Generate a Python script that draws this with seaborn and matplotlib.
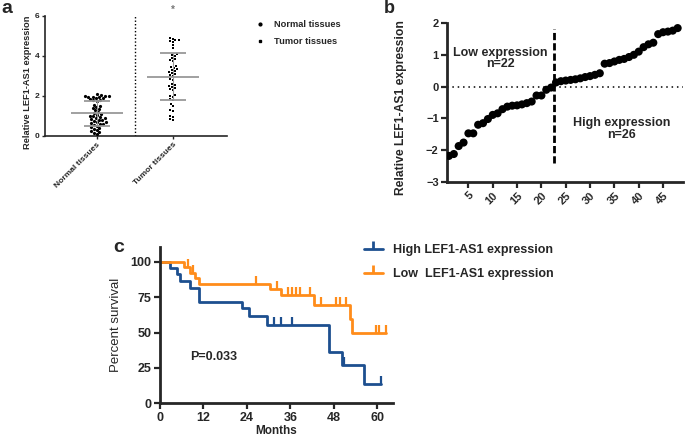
import matplotlib
matplotlib.use('Agg')
import matplotlib.pyplot as plt
import seaborn as sns
import numpy as np
import pandas as pd
from matplotlib.lines import Line2D

sns.set_theme(style='ticks')
plt.rcParams['font.family'] = ['Liberation Sans', 'DejaVu Sans']
plt.rcParams['font.weight'] = 'bold'

# ---------------- Panel a data ----------------
categories_a = ['Normal tissues', 'Tumor tissues']
normal_vals = [2.05, 2.02, 2.0, 1.98, 1.97, 1.95, 1.93, 1.9, 1.88, 2.08, 1.85, 1.8, 1.78, 1.75,
               1.55, 1.5, 1.45, 1.4, 1.35, 1.3,
               1.2, 1.15, 1.1, 1.05, 1.0, 0.98, 0.95, 0.9, 0.88, 0.85, 0.82, 0.8,
               0.75, 0.7, 0.68, 0.65, 0.6, 0.58, 0.55, 0.5, 0.45,
               0.4, 0.35, 0.3, 0.25, 0.2, 0.15, 0.1]
tumor_vals = [4.9, 4.85, 4.8, 4.78, 4.75, 4.7, 4.55, 4.4,
              4.1, 4.05, 4.0, 3.9, 3.85, 3.8, 3.75,
              3.5, 3.45, 3.4, 3.35, 3.3, 3.25, 3.2, 3.15, 3.1, 3.05, 3.0,
              2.85, 2.8, 2.6, 2.55, 2.5, 2.45, 2.4, 2.35, 2.3,
              2.05, 2.0, 1.95, 1.85, 1.8,
              1.6, 1.5, 1.3, 1.25, 1.0, 0.95, 0.85, 0.8]

# ---------------- Panel b data ----------------
sample_rank = list(range(1, 49))
rel_expr = [-2.18, -2.12, -1.87, -1.76, -1.47, -1.47, -1.2, -1.15, -1.02, -0.89,
            -0.84, -0.71, -0.63, -0.6, -0.59, -0.56, -0.52, -0.47, -0.28, -0.28,
            -0.1, -0.03,
            0.13, 0.17, 0.19, 0.21, 0.23, 0.26, 0.3, 0.33, 0.37, 0.42,
            0.72, 0.74, 0.79, 0.84, 0.87, 0.93, 1.0, 1.1, 1.24, 1.33, 1.38,
            1.65, 1.71, 1.73, 1.76, 1.84]
b_ticks = [5, 10, 15, 20, 25, 30, 35, 40, 45]
cutoff_rank = 22.5

# ---------------- Panel c data ----------------
high_t = [0, 2.75, 4.6, 5.5, 8.3, 10.8, 22.5, 24.6, 29.4, 46.6, 50.3, 56.3, 61.1]
high_s = [100, 95.5, 91.0, 86.3, 81.1, 71.6, 67.0, 61.8, 55.0, 36.5, 27.0, 13.6, 13.6]
high_cens_t = [31.5, 33.5, 36.5, 50.8, 61.1]
high_cens_s = [55.0, 55.0, 55.0, 27.0, 13.6]
low_t = [0, 6.7, 8.3, 9.6, 10.8, 30.3, 33.5, 42.6, 52.3, 53.1, 62.4]
low_s = [100, 96.2, 92.2, 88.2, 84.6, 80.4, 76.3, 69.4, 59.5, 49.8, 49.8]
low_cens_t = [7.6, 9.0, 26.6, 32.4, 35.2, 36.4, 37.5, 38.7, 41.3, 44.5, 48.7, 49.6, 51.4, 59.5, 60.4, 62.4]
low_cens_s = [96.2, 92.2, 84.6, 80.4, 76.3, 76.3, 76.3, 76.3, 76.3, 69.4, 69.4, 69.4, 69.4, 49.8, 49.8, 49.8]
c_xticks = [0, 12, 24, 36, 48, 60]
c_yticks = [0, 25, 50, 75, 100]

BLUE = '#1d4f8f'
ORANGE = '#ff8c1a'

W, H = 685, 441
fig = plt.figure(figsize=(6.85, 4.41), dpi=100)

def ax_px(l, t, r, b):
    return fig.add_axes([l / W, 1 - b / H, (r - l) / W, (b - t) / H])

# ======== Panel a ========
axa = ax_px(45, 16, 227, 136)
df_a = pd.DataFrame({'group': ['Normal tissues'] * len(normal_vals) + ['Tumor tissues'] * len(tumor_vals),
                     'value': normal_vals + tumor_vals})
sns.swarmplot(data=df_a[df_a.group == 'Normal tissues'], x='group', y='value', order=categories_a,
              color='black', size=2.3, marker='o', ax=axa)
sns.swarmplot(data=df_a[df_a.group == 'Tumor tissues'], x='group', y='value', order=categories_a,
              color='black', size=2.1, marker='s', ax=axa)
for i, vals in enumerate([normal_vals, tumor_vals]):
    m, sd = np.mean(vals), np.std(vals, ddof=1)
    axa.hlines(m, i - 0.34, i + 0.34, color='#999999', lw=1.3, zorder=5)
    axa.hlines([m - sd, m + sd], i - 0.17, i + 0.17, color='#999999', lw=1.3, zorder=5)
    axa.vlines(i, m - sd, m + sd, color='#999999', lw=0.8, zorder=5)
axa.axvline(0.5, color='black', lw=1.0, linestyle=(0, (1, 1.5)))
axa.text(1, 6.05, '*', ha='center', va='bottom', fontsize=7, color='#777777')
axa.set_xlim(-0.68, 1.71)
axa.set_ylim(0, 6)
axa.set_yticks([0, 2, 4, 6])
axa.set_xlabel('')
axa.set_ylabel('Relative LEF1-AS1 expression', fontsize=6.7, fontweight='bold')
axa.yaxis.set_label_coords(-0.07, 0.45)
axa.tick_params(axis='y', labelsize=6, length=2.5, width=1, pad=1.5)
axa.tick_params(axis='x', labelsize=6, length=2.5, width=1, pad=1)
plt.setp(axa.get_xticklabels(), rotation=45, ha='right', rotation_mode='anchor', fontweight='bold')
plt.setp(axa.get_yticklabels(), fontweight='bold')
sns.despine(ax=axa)
for s in ['left', 'bottom']:
    axa.spines[s].set_linewidth(1.2)

h_a = [Line2D([], [], marker='o', ms=2.0, color='black', lw=0),
       Line2D([], [], marker='s', ms=2.0, color='black', lw=0)]
fig.legend(h_a, categories_a, loc='upper left', bbox_to_anchor=(255 / W, 1 - 20 / H), frameon=False,
           prop={'size': 6.7, 'weight': 'bold'}, handlelength=1.0, handletextpad=1.0,
           labelspacing=0.9, borderpad=0, borderaxespad=0)
fig.text(1 / W, 1 - 0 / H, 'a', fontsize=14, fontweight='bold', va='top', ha='left')

# ======== Panel b ========
axb = ax_px(447, 23, 683, 182)
sns.scatterplot(x=sample_rank, y=rel_expr, color='black', s=34, edgecolor='none', ax=axb, zorder=4)
axb.axhline(0, color='black', lw=1.1, linestyle=(0, (1, 2.5)), zorder=2)
axb.vlines(cutoff_rank, -2.4, 1.8, color='black', lw=2, linestyle=(0, (2.6, 1.1)), zorder=3)
axb.set_xlim(0.6, 49.1)
axb.set_ylim(-3, 2)
axb.set_xticks(b_ticks)
axb.set_yticks([-3, -2, -1, 0, 1, 2])
axb.set_ylabel('Relative LEF1-AS1 expression', fontsize=8.7, fontweight='bold')
axb.yaxis.set_label_coords(-0.17, 0.47)
axb.tick_params(axis='both', labelsize=8, length=4, width=1.6, pad=2)
plt.setp(axb.get_xticklabels(), rotation=45, ha='right', rotation_mode='anchor', fontweight='bold')
plt.setp(axb.get_yticklabels(), fontweight='bold')
sns.despine(ax=axb)
for s in ['left', 'bottom']:
    axb.spines[s].set_linewidth(2)
axb.text(11.5, 0.89, 'Low expression\nn=22', ha='center', va='center', fontsize=9,
         fontweight='bold', linespacing=0.95)
axb.text(36.5, -1.33, 'High expression\nn=26', ha='center', va='center', fontsize=9,
         fontweight='bold', linespacing=0.95)
fig.text(384 / W, 1 - 0 / H, 'b', fontsize=13, fontweight='bold', va='top', ha='left')

# ======== Panel c ========
axc = ax_px(160, 246.7, 393, 403.3)
sns.lineplot(x=high_t, y=high_s, drawstyle='steps-post', estimator=None, sort=False,
             color=BLUE, lw=2, ax=axc)
sns.lineplot(x=low_t, y=low_s, drawstyle='steps-post', estimator=None, sort=False,
             color=ORANGE, lw=2, ax=axc)
axc.plot(high_cens_t, high_cens_s, linestyle='none', marker=2, ms=6, mew=1.6, color=BLUE)
axc.plot(low_cens_t, low_cens_s, linestyle='none', marker=2, ms=6, mew=1.6, color=ORANGE)
axc.set_xlim(0, 64.3)
axc.set_ylim(0, 110.6)
axc.set_xticks(c_xticks)
axc.set_yticks(c_yticks)
axc.set_xlabel('Months', fontsize=8.5, fontweight='bold', labelpad=1)
axc.set_ylabel('Percent survival', fontsize=9.5, fontweight='normal')
axc.yaxis.set_label_coords(-0.163, 0.5)
axc.tick_params(axis='both', labelsize=9, length=4, width=1.6, pad=2)
plt.setp(axc.get_xticklabels(), fontweight='bold')
plt.setp(axc.get_yticklabels(), fontweight='bold')
sns.despine(ax=axc)
for s in ['left', 'bottom']:
    axc.spines[s].set_linewidth(2)
axc.text(8.3, 33, 'P=0.033', fontsize=9, fontweight='bold', ha='left', va='center')
fig.text(113 / W, 1 - 239 / H, 'c', fontsize=14, fontweight='bold', va='top', ha='left')

h_c = [Line2D([], [], color=BLUE, lw=2, marker=2, ms=6, mew=2),
       Line2D([], [], color=ORANGE, lw=2, marker=2, ms=6, mew=2)]
fig.legend(h_c, ['High LEF1-AS1 expression', 'Low  LEF1-AS1 expression'], loc='upper left',
           bbox_to_anchor=(364 / W, 1 - 244 / H), frameon=False, numpoints=1,
           prop={'size': 9, 'weight': 'bold'}, handlelength=1.5, handletextpad=0.8,
           labelspacing=0.95, borderpad=0, borderaxespad=0)

fig.savefig('out.png', dpi=100)
